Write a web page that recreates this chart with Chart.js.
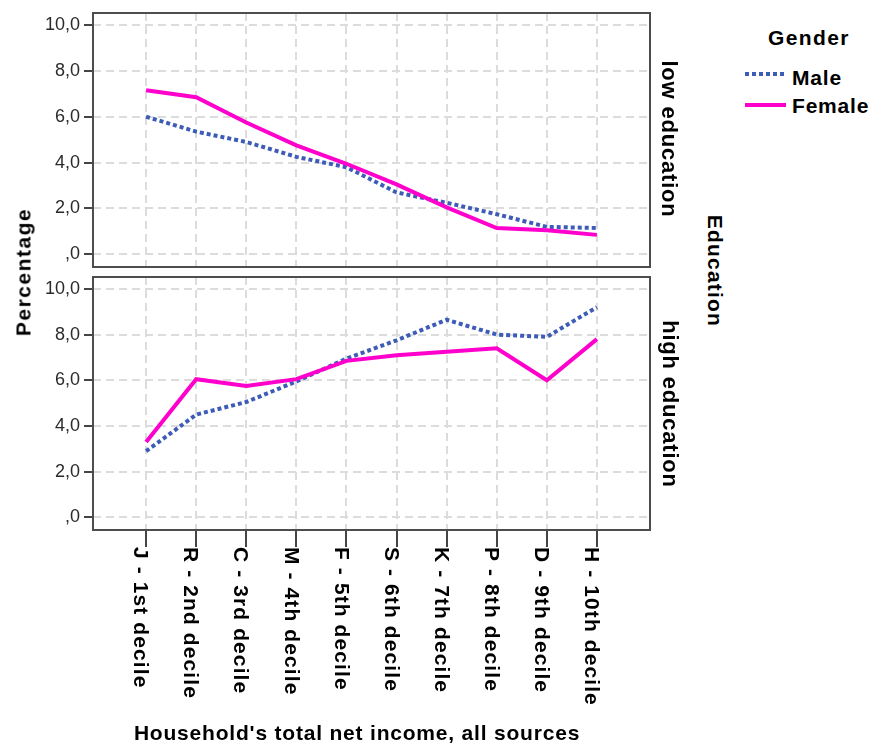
<!DOCTYPE html>
<html>
<head>
<meta charset="utf-8">
<script src="https://cdn.jsdelivr.net/npm/chart.js@4.4.0/dist/chart.umd.min.js"></script>
<style>
  html, body { margin: 0; padding: 0; background: #fff; }
  #wrap { position: relative; width: 873px; height: 747px; overflow: hidden;
          font-family: "Liberation Sans", Arial, sans-serif; color: #000; }
  canvas { position: absolute; left: 0; }
  .lbl { position: absolute; font-weight: bold; white-space: nowrap; line-height: 1; }
  .rot-l { transform: translate(-50%, -50%) rotate(-90deg); }
  .rot-r { transform: translate(-50%, -50%) rotate(90deg); }
  .swatch { position: absolute; height: 4px; }
</style>
</head>
<body>
<div id="wrap">
  <canvas id="low-chart" width="700" height="275" style="top:0"></canvas>
  <canvas id="high-chart" width="700" height="477" style="top:270px"></canvas>

  <div class="lbl rot-l" style="left:23px; top:272px; font-size:21px; letter-spacing:1.5px">Percentage</div>
  <div class="lbl rot-r" style="left:669px; top:139px; font-size:22px; letter-spacing:0.8px">low education</div>
  <div class="lbl rot-r" style="left:670px; top:404px; font-size:22px; letter-spacing:0.8px">high education</div>
  <div class="lbl rot-r" style="left:715px; top:271px; font-size:21px; letter-spacing:1.2px">Education</div>

  <div class="lbl" style="left:0; width:714px; text-align:center; top:722px; font-size:21px; letter-spacing:0.8px">Household's total net income, all sources</div>

  <div class="lbl" style="left:768px; top:27px; font-size:21px; letter-spacing:1.4px">Gender</div>
  <div class="swatch" style="left:745px; top:72px; width:39px; background:repeating-linear-gradient(to right, #3d5cb8 0 4px, transparent 4px 7px)"></div>
  <div class="lbl" style="left:792px; top:67px; font-size:21px; letter-spacing:0.8px">Male</div>
  <div class="swatch" style="left:745px; top:103px; width:41px; background:#ff00cc"></div>
  <div class="lbl" style="left:792px; top:95px; font-size:21px; letter-spacing:0.8px">Female</div>
</div>

<script>
const CATEGORIES = ['J - 1st decile', 'R - 2nd decile', 'C - 3rd decile', 'M - 4th decile', 'F - 5th decile',
                    'S - 6th decile', 'K - 7th decile', 'P - 8th decile', 'D - 9th decile', 'H - 10th decile'];
const Y_TICKS = [0, 2, 4, 6, 8, 10];

// low education panel
const LOW_MALE = [6.0, 5.35, 4.9, 4.25, 3.8, 2.7, 2.25, 1.75, 1.2, 1.15];
const LOW_FEMALE = [7.15, 6.85, 5.75, 4.75, 3.95, 3.05, 2.05, 1.15, 1.05, 0.85];

// high education panel
const HIGH_MALE = [2.9, 4.5, 5.05, 5.95, 6.95, 7.75, 8.65, 8.0, 7.9, 9.2];
const HIGH_FEMALE = [3.3, 6.05, 5.75, 6.05, 6.85, 7.1, 7.25, 7.4, 6.0, 7.8];

const FONT = '"Liberation Sans", Arial, sans-serif';
const MALE_COLOR = '#3d5cb8';
const FEMALE_COLOR = '#ff00cc';
const GRID_COLOR = '#dcdcdc';
const TICK_COLOR = '#444';

function toPoints(values) {
    return values.map((v, i) => ({x: i, y: v}));
}

function formatTick(value) {
    return value === 0 ? ',0' : value.toFixed(1).replace('.', ',');
}

const framePlugin = {
    id: 'frame',
    beforeDatasetsDraw(chart) {
        const {ctx, chartArea: a} = chart;
        ctx.save();
        ctx.setLineDash([]);
        ctx.strokeStyle = '#4d4d4d';
        ctx.lineWidth = 2;
        ctx.strokeRect(a.left, a.top, a.right - a.left, a.bottom - a.top);
        ctx.restore();
    }
};

// category labels are written top-to-bottom, which Chart.js can't rotate to
const xLabelPlugin = {
    id: 'xLabels',
    afterDraw(chart) {
        const {ctx, chartArea} = chart;
        const xScale = chart.scales.x;
        ctx.save();
        ctx.font = 'bold 21px ' + FONT;
        ctx.letterSpacing = '1.1px';
        ctx.fillStyle = '#000';
        ctx.textAlign = 'left';
        ctx.textBaseline = 'middle';
        CATEGORIES.forEach((label, i) => {
            ctx.save();
            ctx.translate(xScale.getPixelForValue(i) - 6, chartArea.bottom + 17);
            ctx.rotate(Math.PI / 2);
            ctx.fillText(label, 0, 0);
            ctx.restore();
        });
        ctx.restore();
    }
};

function createPanel(canvasId, male, female, padTop, padBottom, xHeight, showCategories) {
    return new Chart(document.getElementById(canvasId), {
        type: 'line',
        data: {
            datasets: [
                {
                    label: 'Male',
                    data: toPoints(male),
                    borderColor: MALE_COLOR,
                    borderWidth: 4,
                    borderDash: [4, 3],
                    borderCapStyle: 'butt',
                    pointRadius: 0,
                    fill: false,
                    order: 1
                },
                {
                    label: 'Female',
                    data: toPoints(female),
                    borderColor: FEMALE_COLOR,
                    borderWidth: 4,
                    pointRadius: 0,
                    fill: false,
                    order: 0
                }
            ]
        },
        options: {
            responsive: false,
            animation: false,
            layout: {padding: {top: padTop, bottom: padBottom, left: 0, right: 50}},
            plugins: {legend: {display: false}, tooltip: {enabled: false}},
            scales: {
                x: {
                    type: 'linear',
                    min: -1.06,
                    max: 10.06,
                    afterBuildTicks: s => { s.ticks = CATEGORIES.map((_, i) => ({value: i})); },
                    afterFit: s => { s.height = xHeight; s.paddingLeft = 0; s.paddingRight = 0; },
                    ticks: {display: false},
                    grid: {
                        color: GRID_COLOR, lineWidth: 2,
                        drawTicks: showCategories, tickLength: 17, tickColor: TICK_COLOR, tickWidth: 2, tickBorderDash: []
                    },
                    border: {display: false, dash: [8, 5]}
                },
                y: {
                    type: 'linear',
                    min: -0.55,
                    max: 10.52,
                    afterBuildTicks: s => { s.ticks = Y_TICKS.map(v => ({value: v})); },
                    afterFit: s => { s.width = 93; s.paddingTop = 0; s.paddingBottom = 0; },
                    ticks: {callback: formatTick, color: '#2b2b2b', font: {family: FONT, size: 18}, padding: 4},
                    grid: {
                        color: GRID_COLOR, lineWidth: 2,
                        tickLength: 9, tickColor: TICK_COLOR, tickWidth: 2, tickBorderDash: []
                    },
                    border: {display: false, dash: [8, 5]}
                }
            }
        },
        plugins: showCategories ? [framePlugin, xLabelPlugin] : [framePlugin]
    });
}

createPanel('low-chart', LOW_MALE, LOW_FEMALE, 13, 8, 0, false);
createPanel('high-chart', HIGH_MALE, HIGH_FEMALE, 7, 0, 217, true);
</script>
</body>
</html>
